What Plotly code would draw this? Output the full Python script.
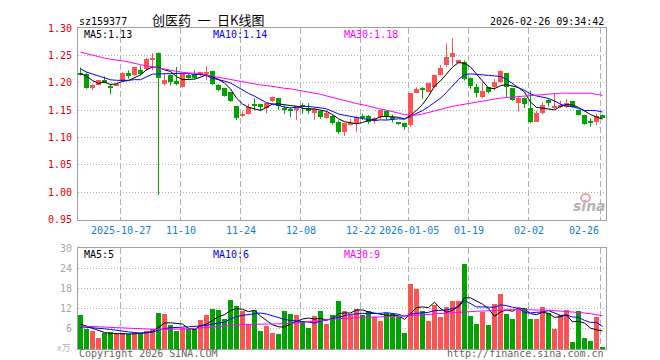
import plotly.graph_objects as go

# ---------------- data ----------------
dates = [
    "2025-10-16", "2025-10-17", "2025-10-20", "2025-10-21", "2025-10-22", "2025-10-23", "2025-10-24",
    "2025-10-27", "2025-10-28", "2025-10-29", "2025-10-30", "2025-10-31",
    "2025-11-03", "2025-11-04", "2025-11-05", "2025-11-06", "2025-11-07",
    "2025-11-10", "2025-11-11", "2025-11-12", "2025-11-13", "2025-11-14",
    "2025-11-17", "2025-11-18", "2025-11-19", "2025-11-20", "2025-11-21",
    "2025-11-24", "2025-11-25", "2025-11-26", "2025-11-27", "2025-11-28",
    "2025-12-01", "2025-12-02", "2025-12-03", "2025-12-04", "2025-12-05",
    "2025-12-08", "2025-12-09", "2025-12-10", "2025-12-11", "2025-12-12",
    "2025-12-15", "2025-12-16", "2025-12-17", "2025-12-18", "2025-12-19",
    "2025-12-22", "2025-12-23", "2025-12-24", "2025-12-25", "2025-12-26",
    "2025-12-29", "2025-12-30", "2025-12-31",
    "2026-01-05", "2026-01-06", "2026-01-07", "2026-01-08", "2026-01-09",
    "2026-01-12", "2026-01-13", "2026-01-14", "2026-01-15", "2026-01-16",
    "2026-01-19", "2026-01-20", "2026-01-21", "2026-01-22", "2026-01-23",
    "2026-01-26", "2026-01-27", "2026-01-28", "2026-01-29", "2026-01-30",
    "2026-02-02", "2026-02-03", "2026-02-04", "2026-02-05", "2026-02-06",
    "2026-02-09", "2026-02-10", "2026-02-11", "2026-02-12", "2026-02-13",
    "2026-02-24", "2026-02-25", "2026-02-26",
]

opens = [1.218, 1.2165, 1.1902, 1.1963, 1.2055, 1.1930, 1.1951, 1.2024, 1.2183, 1.2134,
         1.2238, 1.2244, 1.2433, 1.2543, 1.1982, 1.2146, 1.2030, 1.1921, 1.2134, 1.2152,
         1.2134, 1.2152, 1.2213, 1.1963, 1.1908, 1.1829, 1.1573, 1.1390, 1.1432, 1.1592,
         1.1610, 1.1542, 1.1664, 1.1719, 1.1542, 1.1497, 1.1506, 1.1597, 1.1542, 1.1445,
         1.1481, 1.1359, 1.1402, 1.1280, 1.1097, 1.1237, 1.1262, 1.1375, 1.1402, 1.1310,
         1.1372, 1.1481, 1.1384, 1.1280, 1.1262, 1.1231, 1.1813, 1.1878, 1.1838, 1.1918,
         1.2144, 1.2316, 1.2469, 1.2359, 1.2377, 1.2089, 1.1930, 1.1734, 1.1918, 1.1918,
         1.2010, 1.2175, 1.1899, 1.1623, 1.1722, 1.1531, 1.1292, 1.1440, 1.1685, 1.1531,
         1.1568, 1.1562, 1.1660, 1.1500, 1.1409, 1.1277, 1.1286, 1.1409]
highs = [1.228, 1.219, 1.197, 1.205, 1.2116, 1.1982, 1.199, 1.219, 1.2226, 1.229,
         1.2317, 1.245, 1.2543, 1.2555, 1.2165, 1.215, 1.2287, 1.217, 1.2165, 1.2226,
         1.220, 1.2299, 1.222, 1.197, 1.191, 1.183, 1.158, 1.1481, 1.1616, 1.1719,
         1.162, 1.163, 1.175, 1.1725, 1.1585, 1.1555, 1.157, 1.1628, 1.1628, 1.153,
         1.149, 1.1494, 1.141, 1.131, 1.127, 1.1341, 1.1402, 1.1432, 1.141, 1.1372,
         1.151, 1.149, 1.142, 1.1285, 1.127, 1.182, 1.1918, 1.1918, 1.200, 1.215,
         1.2328, 1.2715, 1.2819, 1.2408, 1.2408, 1.210, 1.1979, 1.201, 1.192, 1.2071,
         1.2224, 1.218, 1.190, 1.1764, 1.1734, 1.1856, 1.1489, 1.1642, 1.1703, 1.1807,
         1.1672, 1.1703, 1.1665, 1.151, 1.141, 1.1348, 1.144, 1.142]
lows = [1.213, 1.189, 1.1872, 1.195, 1.199, 1.1786, 1.194, 1.201, 1.2073, 1.212,
        1.2134, 1.222, 1.2226, 0.995, 1.1951, 1.1951, 1.1951, 1.191, 1.2073, 1.2073,
        1.212, 1.2043, 1.196, 1.185, 1.175, 1.165, 1.1323, 1.1372, 1.142, 1.1494,
        1.1481, 1.1445, 1.165, 1.1506, 1.1432, 1.1372, 1.1323, 1.1432, 1.1432, 1.1323,
        1.1341, 1.1341, 1.1237, 1.1066, 1.103, 1.1219, 1.1097, 1.1323, 1.125, 1.125,
        1.1341, 1.1323, 1.128, 1.1231, 1.114, 1.1194, 1.181, 1.1703, 1.183, 1.191,
        1.2132, 1.2285, 1.2316, 1.2353, 1.204, 1.1887, 1.1734, 1.1715, 1.1807, 1.1856,
        1.200, 1.1734, 1.1672, 1.1476, 1.1538, 1.1262, 1.129, 1.1427, 1.1568, 1.1519,
        1.1538, 1.1538, 1.1545, 1.140, 1.1235, 1.1194, 1.1225, 1.135]
closes = [1.215, 1.1908, 1.1963, 1.2043, 1.2000, 1.1921, 1.1982, 1.2183, 1.2122, 1.2287,
          1.2152, 1.2439, 1.2439, 1.2091, 1.2055, 1.2012, 1.1969, 1.2165, 1.2091, 1.2091,
          1.2195, 1.2195, 1.1969, 1.1860, 1.1756, 1.1664, 1.1353, 1.1432, 1.1555, 1.1585,
          1.1555, 1.1628, 1.1738, 1.1567, 1.1494, 1.1494, 1.1567, 1.1555, 1.1481, 1.1524,
          1.1384, 1.1445, 1.1262, 1.1097, 1.1262, 1.1268, 1.1372, 1.1372, 1.1292, 1.1353,
          1.1506, 1.1402, 1.1341, 1.1250, 1.1201, 1.1811, 1.1887, 1.1875, 1.1991, 1.2144,
          1.2273, 1.2469, 1.2549, 1.2408, 1.2071, 1.1948, 1.1813, 1.1844, 1.1838, 1.2022,
          1.2206, 1.1930, 1.1685, 1.1722, 1.1611, 1.1292, 1.1446, 1.1593, 1.1630, 1.1568,
          1.1599, 1.1623, 1.1550, 1.1409, 1.1243, 1.1274, 1.1397, 1.1366]
volumes = [10.2, 5.8, 5.4, 3.3, 4.8, 5.0, 4.5, 4.7, 4.5, 4.7,
           4.7, 5.2, 5.8, 10.8, 10.5, 7.0, 5.2, 6.2, 5.8, 5.8,
           8.5, 10.0, 12.0, 11.5, 9.0, 14.7, 12.7, 11.2, 7.5, 11.7,
           5.2, 6.7, 4.8, 4.5, 11.4, 10.3, 10.0, 8.2, 6.3, 9.7,
           11.4, 7.5, 10.2, 14.4, 11.4, 10.2, 12.0, 10.2, 11.4, 9.4,
           8.4, 10.7, 10.5, 9.5, 4.8, 19.2, 17.8, 11.4, 8.2, 13.0,
           9.4, 12.4, 14.4, 14.4, 25.2, 9.7, 7.3, 10.9, 7.0, 13.5,
           16.2, 10.5, 8.8, 11.8, 12.2, 9.0, 9.0, 12.4, 10.6, 5.8,
           10.0, 11.7, 2.2, 11.4, 3.3, 2.4, 9.4, 0.3]

ma5 = [1.2165, 1.212, 1.204, 1.199, 1.2015, 1.1967, 1.1982, 1.2026, 1.2042, 1.2099,
       1.2145, 1.2237, 1.2288, 1.2282, 1.2235, 1.2207, 1.2113, 1.2058, 1.2058, 1.2066,
       1.2102, 1.2147, 1.2108, 1.2062, 1.1995, 1.1889, 1.172, 1.1613, 1.1552, 1.1518,
       1.1496, 1.1551, 1.1612, 1.1615, 1.1596, 1.1584, 1.1572, 1.1535, 1.1518, 1.1524,
       1.1502, 1.1478, 1.1419, 1.1342, 1.129, 1.1267, 1.1252, 1.1274, 1.1313, 1.1331,
       1.1379, 1.1385, 1.1379, 1.137, 1.134, 1.1401, 1.1498, 1.1605, 1.1753, 1.1942,
       1.2034, 1.215, 1.2285, 1.2369, 1.2354, 1.2289, 1.2158, 1.2017, 1.1903, 1.1893,
       1.1945, 1.1968, 1.1936, 1.1913, 1.1831, 1.1648, 1.1551, 1.1533, 1.1514, 1.1506,
       1.1567, 1.1603, 1.1594, 1.155, 1.1485, 1.142, 1.1375, 1.1338]
ma10 = [1.2256, 1.2195, 1.216, 1.2125, 1.209, 1.2055, 1.2045, 1.2043, 1.2045, 1.2057,
        1.2056, 1.2109, 1.2157, 1.2162, 1.2167, 1.2176, 1.2175, 1.2173, 1.217, 1.215,
        1.2155, 1.213, 1.2083, 1.206, 1.203, 1.1996, 1.1934, 1.1861, 1.1807, 1.1756,
        1.1692, 1.1636, 1.1613, 1.1583, 1.1557, 1.154, 1.1562, 1.1574, 1.1566, 1.156,
        1.1543, 1.1525, 1.1477, 1.143, 1.1407, 1.1385, 1.1365, 1.1347, 1.1328, 1.1311,
        1.1323, 1.1319, 1.1327, 1.1342, 1.1336, 1.139, 1.1442, 1.1492, 1.1562, 1.1641,
        1.1718, 1.1824, 1.1945, 1.2061, 1.2148, 1.2162, 1.2154, 1.2151, 1.2136, 1.2124,
        1.2117, 1.2063, 1.1977, 1.1908, 1.1862, 1.1796, 1.176, 1.1735, 1.1714, 1.1668,
        1.1608, 1.1577, 1.1563, 1.1532, 1.1495, 1.1494, 1.1489, 1.1466]
ma30 = [1.256, 1.253, 1.250, 1.247, 1.245, 1.243, 1.242, 1.240, 1.238, 1.235,
        1.233, 1.231, 1.229, 1.226, 1.224, 1.222, 1.220, 1.219, 1.218, 1.218,
        1.217, 1.214, 1.212, 1.210, 1.208, 1.205, 1.203, 1.201, 1.199, 1.198,
        1.196, 1.195, 1.193, 1.192, 1.190, 1.189, 1.187, 1.186, 1.183, 1.181,
        1.179, 1.176, 1.173, 1.170, 1.167, 1.164, 1.162, 1.160, 1.157, 1.154,
        1.152, 1.150, 1.147, 1.144, 1.142, 1.141, 1.141, 1.143, 1.146, 1.149,
        1.152, 1.154, 1.157, 1.159, 1.161, 1.163, 1.165, 1.167, 1.168, 1.170,
        1.172, 1.173, 1.174, 1.175, 1.176, 1.177, 1.178, 1.178, 1.179, 1.180,
        1.181, 1.181, 1.181, 1.181, 1.181, 1.181, 1.179, 1.177]

vma5 = [7.4, 6.8, 6.0, 5.4, 4.9, 4.6, 4.5, 4.5, 4.5, 4.5,
        4.6, 4.9, 5.2, 6.4, 7.7, 7.8, 7.7, 7.4, 6.1, 5.8,
        6.9, 7.4, 8.5, 9.6, 10.2, 11.4, 12.0, 11.8, 11.1, 11.5,
        9.8, 8.6, 7.2, 6.6, 6.5, 7.5, 8.3, 8.9, 9.2, 8.9,
        9.1, 8.6, 9.0, 10.5, 10.7, 10.7, 11.6, 11.6, 11.0, 10.6,
        10.3, 10.0, 10.1, 9.9, 8.8, 10.5, 12.3, 12.5, 12.3, 13.9,
        12.0, 10.9, 11.5, 12.7, 15.2, 15.2, 14.2, 13.3, 12.0, 9.7,
        11.0, 11.6, 11.2, 12.2, 11.9, 10.5, 10.2, 10.9, 10.6, 9.4,
        9.6, 10.1, 8.1, 8.2, 7.7, 6.2, 5.7, 5.4]
vma10 = [6.6, 6.5, 6.3, 6.2, 6.0, 5.8, 5.5, 5.3, 5.1, 4.9,
         4.7, 4.8, 5.0, 5.6, 6.1, 6.3, 6.3, 6.5, 6.6, 6.7,
         6.8, 7.0, 7.4, 7.7, 8.0, 8.9, 9.6, 10.0, 10.2, 10.6,
         10.7, 10.4, 9.9, 9.2, 8.8, 8.5, 8.4, 8.3, 8.0, 7.7,
         8.3, 8.6, 9.0, 9.4, 9.9, 10.3, 10.4, 10.6, 10.5, 10.5,
         10.6, 10.8, 10.6, 10.3, 9.7, 10.3, 10.6, 10.8, 10.9, 11.4,
         11.5, 11.6, 12.0, 12.5, 14.5, 13.6, 12.5, 12.5, 12.4, 12.4,
         13.1, 12.9, 12.4, 12.1, 10.8, 10.7, 10.9, 11.0, 11.4, 10.6,
         10.0, 10.1, 9.5, 9.4, 8.5, 7.9, 7.9, 6.7]
vma30 = [6.8, 6.8, 6.7, 6.6, 6.5, 6.4, 6.3, 6.2, 6.1, 6.0,
         5.9, 5.9, 5.8, 5.8, 5.8, 5.8, 5.9, 5.9, 6.0, 6.1,
         6.2, 6.3, 6.4, 6.6, 6.8, 7.0, 7.2, 7.3, 7.3, 7.3,
         7.3, 7.3, 7.3, 7.4, 7.5, 7.6, 7.8, 8.0, 8.1, 8.3,
         8.5, 8.7, 8.9, 9.0, 9.1, 9.2, 9.2, 9.3, 9.3, 9.4,
         9.5, 9.6, 9.7, 9.7, 9.8, 9.9, 10.0, 10.1, 10.2, 10.3,
         10.4, 10.6, 10.7, 10.9, 11.0, 11.1, 11.2, 11.3, 11.5, 11.6,
         11.7, 11.7, 11.7, 11.7, 11.7, 11.6, 11.6, 11.5, 11.5, 11.4,
         11.3, 11.2, 11.0, 10.9, 10.7, 10.5, 10.2, 9.9]

price_ticks = [0.95, 1.00, 1.05, 1.10, 1.15, 1.20, 1.25, 1.30]
vol_ticks = [6, 12, 18, 24, 30]
tick_days = ["2025-10-27", "2025-11-10", "2025-11-24", "2025-12-08", "2025-12-22",
             "2026-01-05", "2026-01-19", "2026-02-02", "2026-02-26"]
tick_labels = ["2025-10-27", "11-10", "11-24", "12-08", "12-22",
               "2026-01-05", "01-19", "02-02", "02-26"]

legend_price = ["MA5:1.13", "MA10:1.14", "MA30:1.18"]
legend_vol = ["MA5:5", "MA10:6", "MA30:9"]

# ---------------- styling ----------------
W, H = 660, 360
ML, MR, MT, MB = 70, 62, 20, 19
PW, PH = W - ML - MR, H - MT - MB
RED = "#ff5252"
GREEN = "#00a400"
GRID = "#b0b0b0"
FRAME = "#a0a0a0"
MONO = "DejaVu Sans Mono"
CJK = "Noto Sans CJK SC"
MA_COLORS = ["#000000", "#0000ff", "#ff00ff"]


def px(xp):
    return (xp - ML) / PW


def py(yp):
    return (H - MB - yp) / PH


xs = list(range(len(dates)))
is_up = [c >= o for o, c in zip(opens, closes)]
BODY_MIN = 0.0019

fig = go.Figure()

# wicks
for up, col in ((True, RED), (False, GREEN)):
    wx, wy = [], []
    for i in xs:
        if is_up[i] == up:
            wx += [i, i, None]
            wy += [lows[i], highs[i], None]
    fig.add_trace(go.Scatter(x=wx, y=wy, mode="lines", line=dict(color=col, width=1),
                             xaxis="x", yaxis="y", hoverinfo="skip", showlegend=False))

# bodies
for up, col in ((True, RED), (False, GREEN)):
    bx = [i for i in xs if is_up[i] == up]
    base = [min(opens[i], closes[i]) for i in bx]
    hgt = [max(abs(closes[i] - opens[i]), BODY_MIN) for i in bx]
    fig.add_trace(go.Bar(x=bx, y=hgt, base=base, width=5 / 6,
                         marker=dict(color=col, line=dict(width=0)),
                         xaxis="x", yaxis="y", hoverinfo="skip", showlegend=False))

# price MAs
for arr, col in zip((ma5, ma10, ma30), MA_COLORS):
    fig.add_trace(go.Scatter(x=xs, y=arr, mode="lines", line=dict(color=col, width=1),
                             xaxis="x", yaxis="y", hoverinfo="skip", showlegend=False))

# volume bars
fig.add_trace(go.Bar(x=xs, y=volumes, width=5 / 6,
                     marker=dict(color=[RED if u else GREEN for u in is_up], line=dict(width=0)),
                     xaxis="x2", yaxis="y2", hoverinfo="skip", showlegend=False))
for arr, col in zip((vma5, vma10, vma30), MA_COLORS):
    fig.add_trace(go.Scatter(x=xs, y=arr, mode="lines", line=dict(color=col, width=1),
                             xaxis="x2", yaxis="y2", hoverinfo="skip", showlegend=False))

x0 = -2.5 / 6
x1 = x0 + PW / 6
grid_x = [dates.index(d) - 1 / 3 for d in tick_days]

common_x = dict(range=[x0, x1], showticklabels=False, ticks="", showgrid=True,
                gridcolor=GRID, griddash="6px,3px", gridwidth=1, tickvals=grid_x,
                zeroline=False, showline=True, mirror=True, linecolor=FRAME, linewidth=1,
                fixedrange=True)

price_bottom = py(211.7)
vol_top = py(240)

fig.update_layout(
    width=W, height=H, margin=dict(l=ML, r=MR, t=MT, b=MB),
    paper_bgcolor="white", plot_bgcolor="white", barmode="overlay", bargap=0,
    showlegend=False,
    xaxis=dict(domain=[0, 1], anchor="y", **common_x),
    xaxis2=dict(domain=[0, 1], anchor="y2", matches="x", **common_x),
    yaxis=dict(domain=[price_bottom, 1], range=[0.95, 1.30], tickvals=price_ticks,
               ticktext=[f"{v:.2f}" for v in price_ticks], ticks="", ticklabelstandoff=3,
               tickfont=dict(family=MONO, size=10, color="#e00000"),
               showgrid=True, gridcolor=GRID, griddash="1px,2px", zeroline=False,
               showline=True, mirror=True, linecolor=FRAME, linewidth=1, anchor="x"),
    yaxis2=dict(domain=[0, vol_top], range=[0, 30], tickvals=vol_ticks,
                ticktext=[str(v) for v in vol_ticks], ticks="", ticklabelstandoff=3,
                tickfont=dict(family=MONO, size=10, color="#a8a8a8"),
                showgrid=True, gridcolor=GRID, griddash="1px,2px", zeroline=False,
                showline=True, mirror=True, linecolor=FRAME, linewidth=1, anchor="x2"),
)

ann = []


def text(t, xp, yp, color, size=10, xanchor="left", family=MONO):
    ann.append(dict(text=t, xref="paper", yref="paper", x=px(xp), y=py(yp),
                    xanchor=xanchor, yanchor="middle", showarrow=False,
                    font=dict(family=family, size=size, color=color)))


text("sz159377", 69, 13, "#000000")
text("创医药\u2002一\u2002日K线图", 142, 11, "#000000", size=13, xanchor="left", family=CJK)
text("2026-02-26 09:34:42", 598, 13, "#000000", xanchor="right")

for t, xp, col in zip(legend_price, (74, 203, 334), MA_COLORS):
    text(t, xp, 26, col)
for t, xp, col in zip(legend_vol, (74, 203, 334), MA_COLORS):
    text(t, xp, 246.5, col)

text("x万", 64, 339, "#b8b8b8", size=9, xanchor="right", family=CJK)
text("Copyright 2026 SINA.COM", 69, 345.5, "#666666")
text("http://finance.sina.com.cn", 598, 345.5, "#666666", xanchor="right")

for d, lab in zip(tick_days, tick_labels):
    last = d == tick_days[-1]
    ann.append(dict(text=lab, xref="x", yref="paper", x=dates.index(d) - 1 / 3, y=py(222),
                    xanchor="right" if last else "center", yanchor="middle", showarrow=False,
                    font=dict(family=MONO, size=10, color="#1080d0")))

# sina watermark
ann.append(dict(text="<b><i>sina</i></b>", xref="paper", yref="paper", x=px(581), y=py(198),
                xanchor="center", yanchor="middle", showarrow=False,
                font=dict(family="DejaVu Sans", size=14, color="#b4b4b4")))
fig.update_layout(annotations=ann)
fig.add_shape(type="circle", xref="paper", yref="paper",
              x0=px(573), x1=px(582), y0=py(194), y1=py(186),
              line=dict(color="#f4a4a4", width=2), fillcolor="rgba(0,0,0,0)")

fig.write_html("out.html")
